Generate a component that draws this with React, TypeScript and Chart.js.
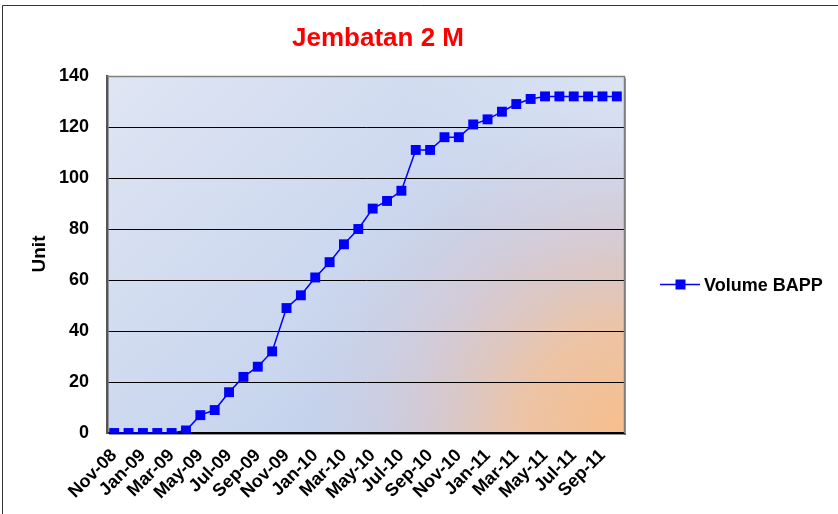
import React, { useEffect, useRef } from "react";
import { Chart, registerables } from "chart.js";

Chart.register(...registerables);

const months: string[] = [
  "Nov-08", "Dec-08", "Jan-09", "Feb-09", "Mar-09", "Apr-09", "May-09", "Jun-09", "Jul-09", "Aug-09", "Sep-09", "Oct-09",
  "Nov-09", "Dec-09", "Jan-10", "Feb-10", "Mar-10", "Apr-10", "May-10", "Jun-10", "Jul-10", "Aug-10", "Sep-10", "Oct-10",
  "Nov-10", "Dec-10", "Jan-11", "Feb-11", "Mar-11", "Apr-11", "May-11", "Jun-11", "Jul-11", "Aug-11", "Sep-11", "Oct-11",
];

const volumeBAPP: number[] = [
  0, 0, 0, 0, 0, 1, 7, 9, 16, 22, 26, 32,
  49, 54, 61, 67, 74, 80, 88, 91, 95, 111, 111, 116,
  116, 121, 123, 126, 129, 131, 132, 132, 132, 132, 132, 132,
];

const chartTitle = "Jembatan 2 M";
const seriesName = "Volume BAPP";
const yAxisTitle = "Unit";
const yMin = 0;
const yMax = 140;
const yStep = 20;

const FONT = "'Liberation Sans', Arial, sans-serif";

const decorPlugin = {
  id: "decor",
  beforeDraw(chart: any) {
    const { ctx, chartArea } = chart;
    const { left, top, right, bottom } = chartArea;
    const w = right - left;
    const h = bottom - top;
    ctx.save();
    // frame
    ctx.strokeStyle = "#333";
    ctx.lineWidth = 1;
    ctx.beginPath();
    ctx.moveTo(2.5, 520);
    ctx.lineTo(2.5, 5.5);
    ctx.lineTo(840, 5.5);
    ctx.stroke();
    // shadow of plot area
    ctx.fillStyle = "rgba(80,80,80,0.6)";
    ctx.fillRect(left + 2, bottom, w, 2);
    ctx.fillRect(right, top + 2, 2, h);
    // base gradient
    const lg = ctx.createLinearGradient(left, top, left + w * 0.6, top + h);
    lg.addColorStop(0, "#dfe5f3");
    lg.addColorStop(1, "#c0d0ec");
    ctx.fillStyle = lg;
    ctx.fillRect(left, top, w, h);
    // lighter top-right
    const rg0 = ctx.createRadialGradient(right, top, 0, right, top, 220);
    rg0.addColorStop(0, "rgba(222,229,244,0.9)");
    rg0.addColorStop(1, "rgba(222,229,244,0)");
    ctx.fillStyle = rg0;
    ctx.fillRect(left, top, w, h);
    // orange glow bottom-right
    const rg = ctx.createRadialGradient(right, bottom, 0, right, bottom, 350);
    rg.addColorStop(0, "rgba(247,190,140,1)");
    rg.addColorStop(0.3, "rgba(240,195,160,0.92)");
    rg.addColorStop(0.6, "rgba(220,198,202,0.6)");
    rg.addColorStop(1, "rgba(195,208,236,0)");
    ctx.fillStyle = rg;
    ctx.fillRect(left, top, w, h);
    ctx.restore();
  },
  afterDraw(chart: any) {
    const { ctx, chartArea } = chart;
    const { left, top, right, bottom } = chartArea;
    ctx.save();
    // top & right border
    ctx.strokeStyle = "#7f7f7f";
    ctx.lineWidth = 1.5;
    ctx.beginPath();
    ctx.moveTo(left, top + 0.5);
    ctx.lineTo(right + 0.5, top + 0.5);
    ctx.lineTo(right + 0.5, bottom);
    ctx.stroke();
    // title
    ctx.fillStyle = "#ff0000";
    ctx.font = `bold 26px ${FONT}`;
    ctx.textAlign = "center";
    ctx.textBaseline = "alphabetic";
    ctx.fillText(chartTitle, 378, 46);
    // y axis title
    ctx.fillStyle = "#000";
    ctx.font = `bold 19px ${FONT}`;
    ctx.translate(45, 254);
    ctx.rotate(-Math.PI / 2);
    ctx.textAlign = "center";
    ctx.fillText(yAxisTitle, 0, 0);
    ctx.setTransform(1, 0, 0, 1, 0, 0);
    // legend
    const ly = 284.5;
    ctx.strokeStyle = "#0000ff";
    ctx.lineWidth = 1.5;
    ctx.beginPath();
    ctx.moveTo(660, ly);
    ctx.lineTo(700, ly);
    ctx.stroke();
    ctx.fillStyle = "#0000ff";
    ctx.fillRect(675.5, ly - 5, 10, 10);
    ctx.fillStyle = "#000";
    ctx.font = `bold 18px ${FONT}`;
    ctx.textAlign = "left";
    ctx.fillText(seriesName, 704, ly + 6);
    ctx.restore();
  },
};

export default function App() {
  const ref = useRef<HTMLCanvasElement | null>(null);
  useEffect(() => {
    if (!ref.current) return;
    const chart = new Chart(ref.current, {
      type: "line",
      data: {
        labels: months,
        datasets: [
          {
            label: seriesName,
            data: volumeBAPP,
            borderColor: "#0000ff",
            backgroundColor: "#0000ff",
            borderWidth: 1.5,
            pointStyle: "rect",
            pointRadius: 7,
            pointHoverRadius: 7,
            pointBorderWidth: 0,
            tension: 0,
          },
        ],
      },
      options: {
        responsive: false,
        animation: false,
        layout: { padding: { left: 0, top: 76, right: 214, bottom: 0 } },
        plugins: {
          legend: { display: false },
          title: { display: false },
          tooltip: { enabled: false },
        },
        scales: {
          x: {
            offset: true,
            grid: { display: false, drawTicks: false },
            border: { display: true, color: "#000", width: 1.5 },
            afterFit: (s: any) => {
              s.height = 81;
            },
            ticks: {
              autoSkip: false,
              maxRotation: 45,
              minRotation: 45,
              padding: 12,
              color: "#000",
              font: { family: FONT, size: 18, weight: "bold" },
              callback: (_v: any, i: number) => (i % 2 === 0 ? months[i] : null),
            },
          },
          y: {
            min: yMin,
            max: yMax,
            grid: {
              color: (c: any) => (c.tick && c.tick.value === yMax ? "rgba(0,0,0,0)" : "#000"),
              lineWidth: 1,
              drawTicks: false,
            },
            border: { display: true, color: "#555", width: 2.5 },
            afterFit: (s: any) => {
              s.width = 107;
            },
            ticks: {
              stepSize: yStep,
              padding: 18,
              color: "#000",
              font: { family: FONT, size: 18, weight: "bold" },
            },
          },
        },
      },
      plugins: [decorPlugin],
    });
    return () => chart.destroy();
  }, []);
  return (
    <div style={{ position: "fixed", left: 0, top: 0, width: 838, height: 514, background: "#fff" }}>
      <canvas ref={ref} width={838} height={514} style={{ display: "block" }} />
    </div>
  );
}
